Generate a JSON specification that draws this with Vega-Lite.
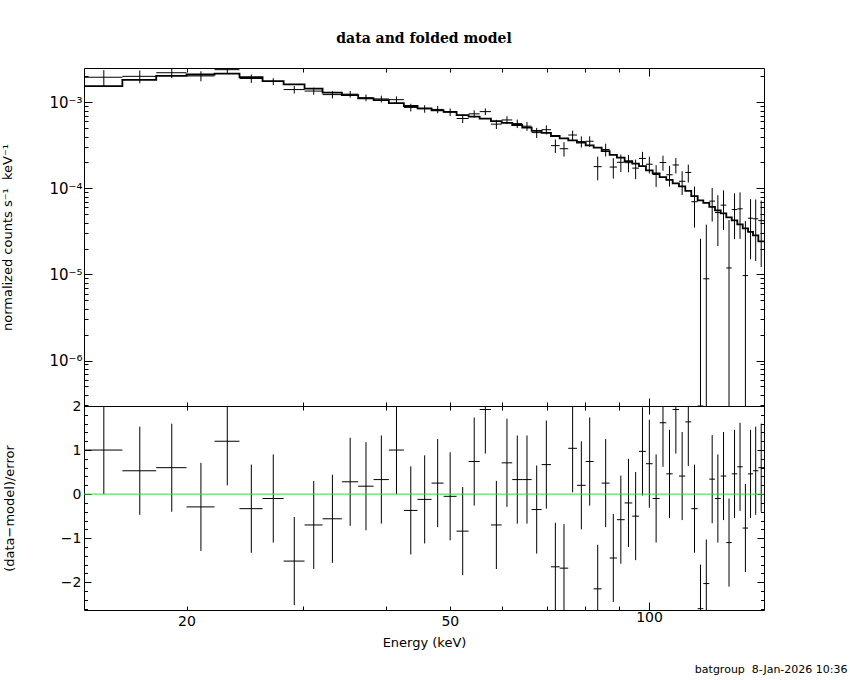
{
  "$schema": "https://vega.github.io/schema/vega-lite/v6.json",
  "background": "white",
  "padding": {"left": 1, "top": 31, "right": 0, "bottom": 0},
  "spacing": 0,
  "bounds": "flush",
  "datasets": {
    "bins": [
      {"elo": 14.0, "ehi": 16.0, "e": 15.0, "flux": 0.001957, "lo": 0.001547, "hi": 0.002367, "res": 1.0, "rerr": 1},
      {"elo": 16.0, "ehi": 18.0, "e": 17.0, "flux": 0.002006, "lo": 0.001666, "hi": 0.002346, "res": 0.53, "rerr": 1},
      {"elo": 18.0, "ehi": 20.0, "e": 19.0, "flux": 0.002207, "lo": 0.001917, "hi": 0.002497, "res": 0.6, "rerr": 1},
      {"elo": 20.0, "ehi": 22.05, "e": 21.03, "flux": 0.002027, "lo": 0.001757, "hi": 0.002297, "res": -0.29, "rerr": 1},
      {"elo": 22.05, "ehi": 24.05, "e": 23.05, "flux": 0.002397, "lo": 0.002197, "hi": 0.002597, "res": 1.2, "rerr": 1},
      {"elo": 24.05, "ehi": 26.06, "e": 25.06, "flux": 0.001893, "lo": 0.001683, "hi": 0.002103, "res": -0.33, "rerr": 1},
      {"elo": 26.06, "ehi": 28.04, "e": 27.05, "flux": 0.001748, "lo": 0.001588, "hi": 0.001908, "res": -0.1, "rerr": 1},
      {"elo": 28.04, "ehi": 30.16, "e": 29.1, "flux": 0.001407, "lo": 0.001267, "hi": 0.001547, "res": -1.52, "rerr": 1},
      {"elo": 30.16, "ehi": 32.11, "e": 31.14, "flux": 0.001352, "lo": 0.001222, "hi": 0.001482, "res": -0.7, "rerr": 1},
      {"elo": 32.11, "ehi": 34.34, "e": 33.23, "flux": 0.00123, "lo": 0.00111, "hi": 0.00135, "res": -0.56, "rerr": 1},
      {"elo": 34.34, "ehi": 36.35, "e": 35.35, "flux": 0.001244, "lo": 0.001134, "hi": 0.001354, "res": 0.28, "rerr": 1},
      {"elo": 36.35, "ehi": 38.35, "e": 37.35, "flux": 0.001131, "lo": 0.001031, "hi": 0.001231, "res": 0.18, "rerr": 1},
      {"elo": 38.35, "ehi": 40.44, "e": 39.4, "flux": 0.001096, "lo": 0.000996, "hi": 0.001196, "res": 0.33, "rerr": 1},
      {"elo": 40.44, "ehi": 42.61, "e": 41.53, "flux": 0.001074, "lo": 0.000979, "hi": 0.001169, "res": 1.0, "rerr": 1},
      {"elo": 42.61, "ehi": 44.69, "e": 43.65, "flux": 0.000873, "lo": 0.000783, "hi": 0.000963, "res": -0.37, "rerr": 1},
      {"elo": 44.69, "ehi": 46.92, "e": 45.81, "flux": 0.000842, "lo": 0.000757, "hi": 0.000927, "res": -0.12, "rerr": 1},
      {"elo": 46.92, "ehi": 48.93, "e": 47.93, "flux": 0.000827, "lo": 0.000747, "hi": 0.000907, "res": 0.25, "rerr": 1},
      {"elo": 48.93, "ehi": 51.19, "e": 50.06, "flux": 0.000771, "lo": 0.000693, "hi": 0.000849, "res": -0.05, "rerr": 1},
      {"elo": 51.19, "ehi": 53.38, "e": 52.29, "flux": 0.000649, "lo": 0.000574, "hi": 0.000724, "res": -0.84, "rerr": 1},
      {"elo": 53.38, "ehi": 55.47, "e": 54.43, "flux": 0.000735, "lo": 0.000663, "hi": 0.000807, "res": 0.74, "rerr": 1},
      {"elo": 55.47, "ehi": 57.69, "e": 56.58, "flux": 0.00078, "lo": 0.00071, "hi": 0.00085, "res": 1.92, "rerr": 1},
      {"elo": 57.69, "ehi": 59.88, "e": 58.79, "flux": 0.000558, "lo": 0.00049, "hi": 0.000626, "res": -0.7, "rerr": 1},
      {"elo": 59.88, "ehi": 62.13, "e": 61.0, "flux": 0.000624, "lo": 0.000558, "hi": 0.00069, "res": 0.71, "rerr": 1},
      {"elo": 62.13, "ehi": 64.33, "e": 63.23, "flux": 0.000566, "lo": 0.000502, "hi": 0.00063, "res": 0.33, "rerr": 1},
      {"elo": 64.33, "ehi": 66.47, "e": 65.4, "flux": 0.000528, "lo": 0.000466, "hi": 0.00059, "res": 0.33, "rerr": 1},
      {"elo": 66.47, "ehi": 68.82, "e": 67.65, "flux": 0.000445, "lo": 0.000385, "hi": 0.000505, "res": -0.35, "rerr": 1},
      {"elo": 68.82, "ehi": 71.09, "e": 69.96, "flux": 0.000481, "lo": 0.000423, "hi": 0.000539, "res": 0.67, "rerr": 1},
      {"elo": 71.09, "ehi": 73.28, "e": 72.19, "flux": 0.000314, "lo": 0.000258, "hi": 0.00037, "res": -1.65, "rerr": 1},
      {"elo": 73.28, "ehi": 75.5, "e": 74.39, "flux": 0.000289, "lo": 0.000234, "hi": 0.000344, "res": -1.68, "rerr": 1},
      {"elo": 75.5, "ehi": 77.82, "e": 76.66, "flux": 0.000417, "lo": 0.000364, "hi": 0.00047, "res": 1.04, "rerr": 1},
      {"elo": 77.82, "ehi": 80.22, "e": 79.02, "flux": 0.00035, "lo": 0.000298, "hi": 0.000402, "res": 0.2, "rerr": 1},
      {"elo": 80.22, "ehi": 82.48, "e": 81.35, "flux": 0.000353, "lo": 0.000303, "hi": 0.000403, "res": 0.74, "rerr": 1},
      {"elo": 82.48, "ehi": 84.81, "e": 83.65, "flux": 0.000179, "lo": 0.000124, "hi": 0.000234, "res": -2.15, "rerr": 1},
      {"elo": 84.81, "ehi": 87.2, "e": 86.0, "flux": 0.000283, "lo": 0.000235, "hi": 0.000331, "res": 0.25, "rerr": 1},
      {"elo": 87.2, "ehi": 89.44, "e": 88.32, "flux": 0.000177, "lo": 0.00013, "hi": 0.000224, "res": -1.45, "rerr": 1},
      {"elo": 89.44, "ehi": 91.87, "e": 90.66, "flux": 0.000201, "lo": 0.000155, "hi": 0.000247, "res": -0.58, "rerr": 1},
      {"elo": 91.87, "ehi": 94.34, "e": 93.1, "flux": 0.000199, "lo": 0.000154, "hi": 0.000244, "res": -0.2, "rerr": 1},
      {"elo": 94.34, "ehi": 96.56, "e": 95.45, "flux": 0.000172, "lo": 0.000128, "hi": 0.000216, "res": -0.5, "rerr": 1},
      {"elo": 96.56, "ehi": 98.94, "e": 97.75, "flux": 0.000223, "lo": 0.00018, "hi": 0.000266, "res": 0.97, "rerr": 1},
      {"elo": 98.94, "ehi": 101.28, "e": 100.11, "flux": 0.000191, "lo": 0.000149, "hi": 0.000233, "res": 0.69, "rerr": 1},
      {"elo": 101.28, "ehi": 103.77, "e": 102.5, "flux": 0.000145, "lo": 0.000104, "hi": 0.000186, "res": -0.1, "rerr": 1},
      {"elo": 103.77, "ehi": 106.19, "e": 104.98, "flux": 0.0002, "lo": 0.00016, "hi": 0.00024, "res": 1.62, "rerr": 1},
      {"elo": 106.19, "ehi": 108.58, "e": 107.39, "flux": 0.000144, "lo": 0.000105, "hi": 0.000183, "res": 0.46, "rerr": 1},
      {"elo": 108.58, "ehi": 110.99, "e": 109.79, "flux": 0.000187, "lo": 0.000149, "hi": 0.000225, "res": 1.92, "rerr": 1},
      {"elo": 110.99, "ehi": 113.45, "e": 112.22, "flux": 0.000121, "lo": 0.000084, "hi": 0.000158, "res": 0.41, "rerr": 1},
      {"elo": 113.45, "ehi": 115.84, "e": 114.65, "flux": 0.000153, "lo": 0.000117, "hi": 0.000189, "res": 1.64, "rerr": 1},
      {"elo": 115.84, "ehi": 118.45, "e": 117.15, "flux": 0.00007, "lo": 0.000035, "hi": 0.000105, "res": -0.33, "rerr": 1},
      {"elo": 118.45, "ehi": 120.79, "e": 119.62, "flux": -0.000003, "lo": 1e-9, "hi": 0.000026, "res": -2.6, "rerr": 1},
      {"elo": 120.79, "ehi": 123.34, "e": 122.07, "flux": 0.0000089, "lo": 1e-9, "hi": 0.0000379, "res": -2.03, "rerr": 1},
      {"elo": 123.34, "ehi": 125.81, "e": 124.58, "flux": 0.0000711, "lo": 0.0000411, "hi": 0.0001011, "res": 0.34, "rerr": 1},
      {"elo": 125.81, "ehi": 128.33, "e": 127.07, "flux": 0.0000524, "lo": 0.0000214, "hi": 0.0000834, "res": -0.1, "rerr": 1},
      {"elo": 128.33, "ehi": 130.86, "e": 129.6, "flux": 0.0000639, "lo": 0.0000329, "hi": 0.0000949, "res": 0.41, "rerr": 1},
      {"elo": 130.86, "ehi": 133.35, "e": 132.1, "flux": 0.0000119, "lo": 1e-9, "hi": 0.0000429, "res": -1.1, "rerr": 1},
      {"elo": 133.35, "ehi": 135.97, "e": 134.66, "flux": 0.0000567, "lo": 0.0000257, "hi": 0.0000877, "res": 0.46, "rerr": 1},
      {"elo": 135.97, "ehi": 138.55, "e": 137.26, "flux": 0.0000579, "lo": 0.0000259, "hi": 0.0000899, "res": 0.62, "rerr": 1},
      {"elo": 138.55, "ehi": 141.14, "e": 139.85, "flux": 0.0000097, "lo": 1e-9, "hi": 0.0000417, "res": -0.77, "rerr": 1},
      {"elo": 141.14, "ehi": 143.61, "e": 142.38, "flux": 0.000045, "lo": 0.000015, "hi": 0.000075, "res": 0.46, "rerr": 1},
      {"elo": 143.61, "ehi": 146.29, "e": 144.95, "flux": 0.0000443, "lo": 0.0000143, "hi": 0.0000743, "res": 0.53, "rerr": 1},
      {"elo": 146.29, "ehi": 149.22, "e": 147.76, "flux": 0.0000422, "lo": 0.0000122, "hi": 0.0000722, "res": 0.6, "rerr": 1}
    ],
    "edges": [
      {"edge": 14.0, "model": 0.001547}, {"edge": 16.0, "model": 0.001826},
      {"edge": 18.0, "model": 0.002033}, {"edge": 20.0, "model": 0.002105},
      {"edge": 22.05, "model": 0.002157}, {"edge": 24.05, "model": 0.001963},
      {"edge": 26.06, "model": 0.001764}, {"edge": 28.04, "model": 0.00162},
      {"edge": 30.16, "model": 0.001443}, {"edge": 32.11, "model": 0.001297},
      {"edge": 34.34, "model": 0.001213}, {"edge": 36.35, "model": 0.001113},
      {"edge": 38.35, "model": 0.001063}, {"edge": 40.44, "model": 0.000979},
      {"edge": 42.61, "model": 0.000906}, {"edge": 44.69, "model": 0.000852},
      {"edge": 46.92, "model": 0.000807}, {"edge": 48.93, "model": 0.000775},
      {"edge": 51.19, "model": 0.000712}, {"edge": 53.38, "model": 0.000682},
      {"edge": 55.47, "model": 0.000646}, {"edge": 57.69, "model": 0.000606},
      {"edge": 59.88, "model": 0.000577}, {"edge": 62.13, "model": 0.000545},
      {"edge": 64.33, "model": 0.000508}, {"edge": 66.47, "model": 0.000466},
      {"edge": 68.82, "model": 0.000442}, {"edge": 71.09, "model": 0.000406},
      {"edge": 73.28, "model": 0.0003815}, {"edge": 75.5, "model": 0.0003614},
      {"edge": 77.82, "model": 0.00034}, {"edge": 80.22, "model": 0.0003162},
      {"edge": 82.48, "model": 0.0002973}, {"edge": 84.81, "model": 0.0002714},
      {"edge": 87.2, "model": 0.0002452}, {"edge": 89.44, "model": 0.0002275},
      {"edge": 91.87, "model": 0.0002077}, {"edge": 94.34, "model": 0.0001937},
      {"edge": 96.56, "model": 0.0001817}, {"edge": 98.94, "model": 0.0001619},
      {"edge": 101.28, "model": 0.0001494}, {"edge": 103.77, "model": 0.0001353},
      {"edge": 106.19, "model": 0.0001256}, {"edge": 108.58, "model": 0.0001143},
      {"edge": 110.99, "model": 0.0001055}, {"edge": 113.45, "model": 0.0000935},
      {"edge": 115.84, "model": 0.0000814}, {"edge": 118.45, "model": 0.0000725},
      {"edge": 120.79, "model": 0.0000678}, {"edge": 123.34, "model": 0.0000609},
      {"edge": 125.81, "model": 0.0000555}, {"edge": 128.33, "model": 0.0000512},
      {"edge": 130.86, "model": 0.000046}, {"edge": 133.35, "model": 0.0000424},
      {"edge": 135.97, "model": 0.0000381}, {"edge": 138.55, "model": 0.0000343},
      {"edge": 141.14, "model": 0.0000312}, {"edge": 143.61, "model": 0.0000284},
      {"edge": 146.29, "model": 0.0000242}, {"edge": 149.22, "model": 0.0000242}
    ]
  },
  "config": {
    "view": {"stroke": "black", "strokeWidth": 1},
    "axis": {
      "grid": false,
      "domain": false,
      "labelFont": "DejaVu Sans",
      "labelFontSize": 14,
      "labelColor": "black",
      "titleFont": "DejaVu Sans",
      "titleFontSize": 13,
      "titleFontWeight": "normal",
      "titleColor": "black",
      "tickColor": "black",
      "tickWidth": 1,
      "labelOverlap": false,
      "labelFlush": false
    }
  },
  "vconcat": [
    {
      "width": 680,
      "height": 338,
      "title": {
        "text": "data and folded model",
        "font": "DejaVu Serif",
        "fontSize": 14,
        "fontWeight": "bold",
        "color": "black",
        "offset": 22,
        "anchor": "middle",
        "frame": "group"
      },
      "layer": [
        {
          "data": {"name": "bins"},
          "mark": {"type": "rule", "color": "black", "strokeWidth": 1},
          "encoding": {
            "x": {
              "field": "e",
              "type": "quantitative",
              "scale": {"type": "log", "domain": [14, 149.2], "nice": false},
              "axis": {
                "orient": "bottom",
                "values": [20, 30, 40, 50, 60, 70, 80, 90, 100],
                "labels": false,
                "title": null,
                "minExtent": 0,
                "maxExtent": 0,
                "tickSize": {"condition": {"test": "datum.value == 100", "value": -8}, "value": -4}
              }
            },
            "y": {
              "field": "lo",
              "type": "quantitative",
              "scale": {"type": "log", "domain": [2.96e-7, 0.002506], "nice": false, "clamp": true},
              "axis": {
                "orient": "left",
                "values": [3e-7, 4e-7, 5e-7, 6e-7, 7e-7, 8e-7, 9e-7, 0.000001, 2e-6, 3e-6, 4e-6, 5e-6, 6e-6, 7e-6, 8e-6, 9e-6, 0.00001, 0.00002, 0.00003, 0.00004, 0.00005, 0.00006, 0.00007, 0.00008, 0.00009, 0.0001, 0.0002, 0.0003, 0.0004, 0.0005, 0.0006, 0.0007, 0.0008, 0.0009, 0.001, 0.002],
                "labelExpr": "datum.value == 0.001 ? '10⁻³' : datum.value == 0.0001 ? '10⁻⁴' : datum.value == 0.00001 ? '10⁻⁵' : datum.value == 0.000001 ? '10⁻⁶' : ''",
                "labelFontSize": 15,
                "labelPadding": 10,
                "title": "normalized counts s⁻¹\u00a0\u00a0keV⁻¹",
                "titlePadding": 34,
                "tickSize": {"condition": {"test": "datum.value == 0.001 || datum.value == 0.0001 || datum.value == 0.00001 || datum.value == 0.000001", "value": -8}, "value": -4}
              }
            },
            "y2": {"field": "hi"}
          }
        },
        {
          "data": {"name": "bins"},
          "mark": {"type": "rule", "color": "black", "strokeWidth": 1},
          "encoding": {
            "x": {
              "field": "elo",
              "type": "quantitative",
              "axis": {
                "orient": "top",
                "values": [20, 30, 40, 50, 60, 70, 80, 90, 100],
                "labels": false,
                "title": null,
                "minExtent": 0,
                "maxExtent": 0,
                "tickSize": {"condition": {"test": "datum.value == 100", "value": -8}, "value": -4}
              }
            },
            "x2": {"field": "ehi"},
            "y": {
              "field": "flux",
              "type": "quantitative",
              "axis": {
                "orient": "right",
                "values": [3e-7, 4e-7, 5e-7, 6e-7, 7e-7, 8e-7, 9e-7, 0.000001, 2e-6, 3e-6, 4e-6, 5e-6, 6e-6, 7e-6, 8e-6, 9e-6, 0.00001, 0.00002, 0.00003, 0.00004, 0.00005, 0.00006, 0.00007, 0.00008, 0.00009, 0.0001, 0.0002, 0.0003, 0.0004, 0.0005, 0.0006, 0.0007, 0.0008, 0.0009, 0.001, 0.002],
                "labels": false,
                "title": null,
                "minExtent": 0,
                "maxExtent": 0,
                "tickSize": {"condition": {"test": "datum.value == 0.001 || datum.value == 0.0001 || datum.value == 0.00001 || datum.value == 0.000001", "value": -8}, "value": -4}
              }
            }
          }
        },
        {
          "data": {"name": "edges"},
          "mark": {"type": "line", "interpolate": "step-after", "color": "black", "strokeWidth": 1.8},
          "encoding": {
            "x": {"field": "edge", "type": "quantitative", "axis": null},
            "y": {"field": "model", "type": "quantitative", "axis": null}
          }
        }
      ],
      "resolve": {"axis": {"x": "independent", "y": "independent"}}
    },
    {
      "width": 680,
      "height": 204,
      "title": {
        "text": "batgroup\u00a0\u00a08-Jan-2026 10:36",
        "orient": "bottom",
        "anchor": "end",
        "font": "DejaVu Sans",
        "fontSize": 11,
        "fontWeight": "normal",
        "color": "black",
        "dx": 83,
        "offset": 15
      },
      "layer": [
        {
          "data": {"name": "bins"},
          "mark": {"type": "errorbar", "color": "black", "thickness": 1},
          "encoding": {
            "x": {
              "field": "e",
              "type": "quantitative",
              "scale": {"type": "log", "domain": [14, 149.2], "nice": false},
              "axis": {
                "orient": "bottom",
                "values": [20, 30, 40, 50, 60, 70, 80, 90, 100],
                "labelExpr": "indexof([20, 50, 100], datum.value) >= 0 ? format(datum.value, 'd') : ''",
                "labelPadding": 8,
                "title": "Energy (keV)",
                "titlePadding": 8,
                "tickSize": {"condition": {"test": "datum.value == 100", "value": -8}, "value": -4}
              }
            },
            "y": {
              "field": "res",
              "type": "quantitative",
              "scale": {"domain": [-2.63, 2.0], "nice": false, "zero": false, "clamp": true},
              "axis": {
                "orient": "left",
                "values": [-2.6, -2.4, -2.2, -2, -1.8, -1.6, -1.4, -1.2, -1, -0.8, -0.6, -0.4, -0.2, 0, 0.2, 0.4, 0.6, 0.8, 1, 1.2, 1.4, 1.6, 1.8, 2],
                "labelExpr": "datum.value % 1 == 0 ? format(datum.value, 'd') : ''",
                "labelPadding": 10,
                "title": "(data−model)/error",
                "titlePadding": 44,
                "tickSize": {"condition": {"test": "datum.value % 1 == 0", "value": -7}, "value": -3.5}
              }
            },
            "yError": {"field": "rerr"}
          }
        },
        {
          "data": {"name": "bins"},
          "mark": {"type": "rule", "color": "black", "strokeWidth": 1},
          "encoding": {
            "x": {
              "field": "elo",
              "type": "quantitative",
              "axis": {
                "orient": "top",
                "values": [20, 30, 40, 50, 60, 70, 80, 90, 100],
                "labels": false,
                "title": null,
                "minExtent": 0,
                "maxExtent": 0,
                "tickSize": {"condition": {"test": "datum.value == 100", "value": -8}, "value": -4}
              }
            },
            "x2": {"field": "ehi"},
            "y": {
              "field": "res",
              "type": "quantitative",
              "axis": {
                "orient": "right",
                "values": [-2.6, -2.4, -2.2, -2, -1.8, -1.6, -1.4, -1.2, -1, -0.8, -0.6, -0.4, -0.2, 0, 0.2, 0.4, 0.6, 0.8, 1, 1.2, 1.4, 1.6, 1.8, 2],
                "labels": false,
                "title": null,
                "minExtent": 0,
                "maxExtent": 0,
                "tickSize": {"condition": {"test": "datum.value % 1 == 0", "value": -7}, "value": -3.5}
              }
            }
          }
        },
        {
          "data": {"values": [{}]},
          "mark": {"type": "rule", "color": "#33dd33", "strokeWidth": 1},
          "encoding": {"y": {"datum": 0, "type": "quantitative", "axis": null}}
        }
      ],
      "resolve": {"axis": {"x": "independent", "y": "independent"}}
    }
  ]
}
